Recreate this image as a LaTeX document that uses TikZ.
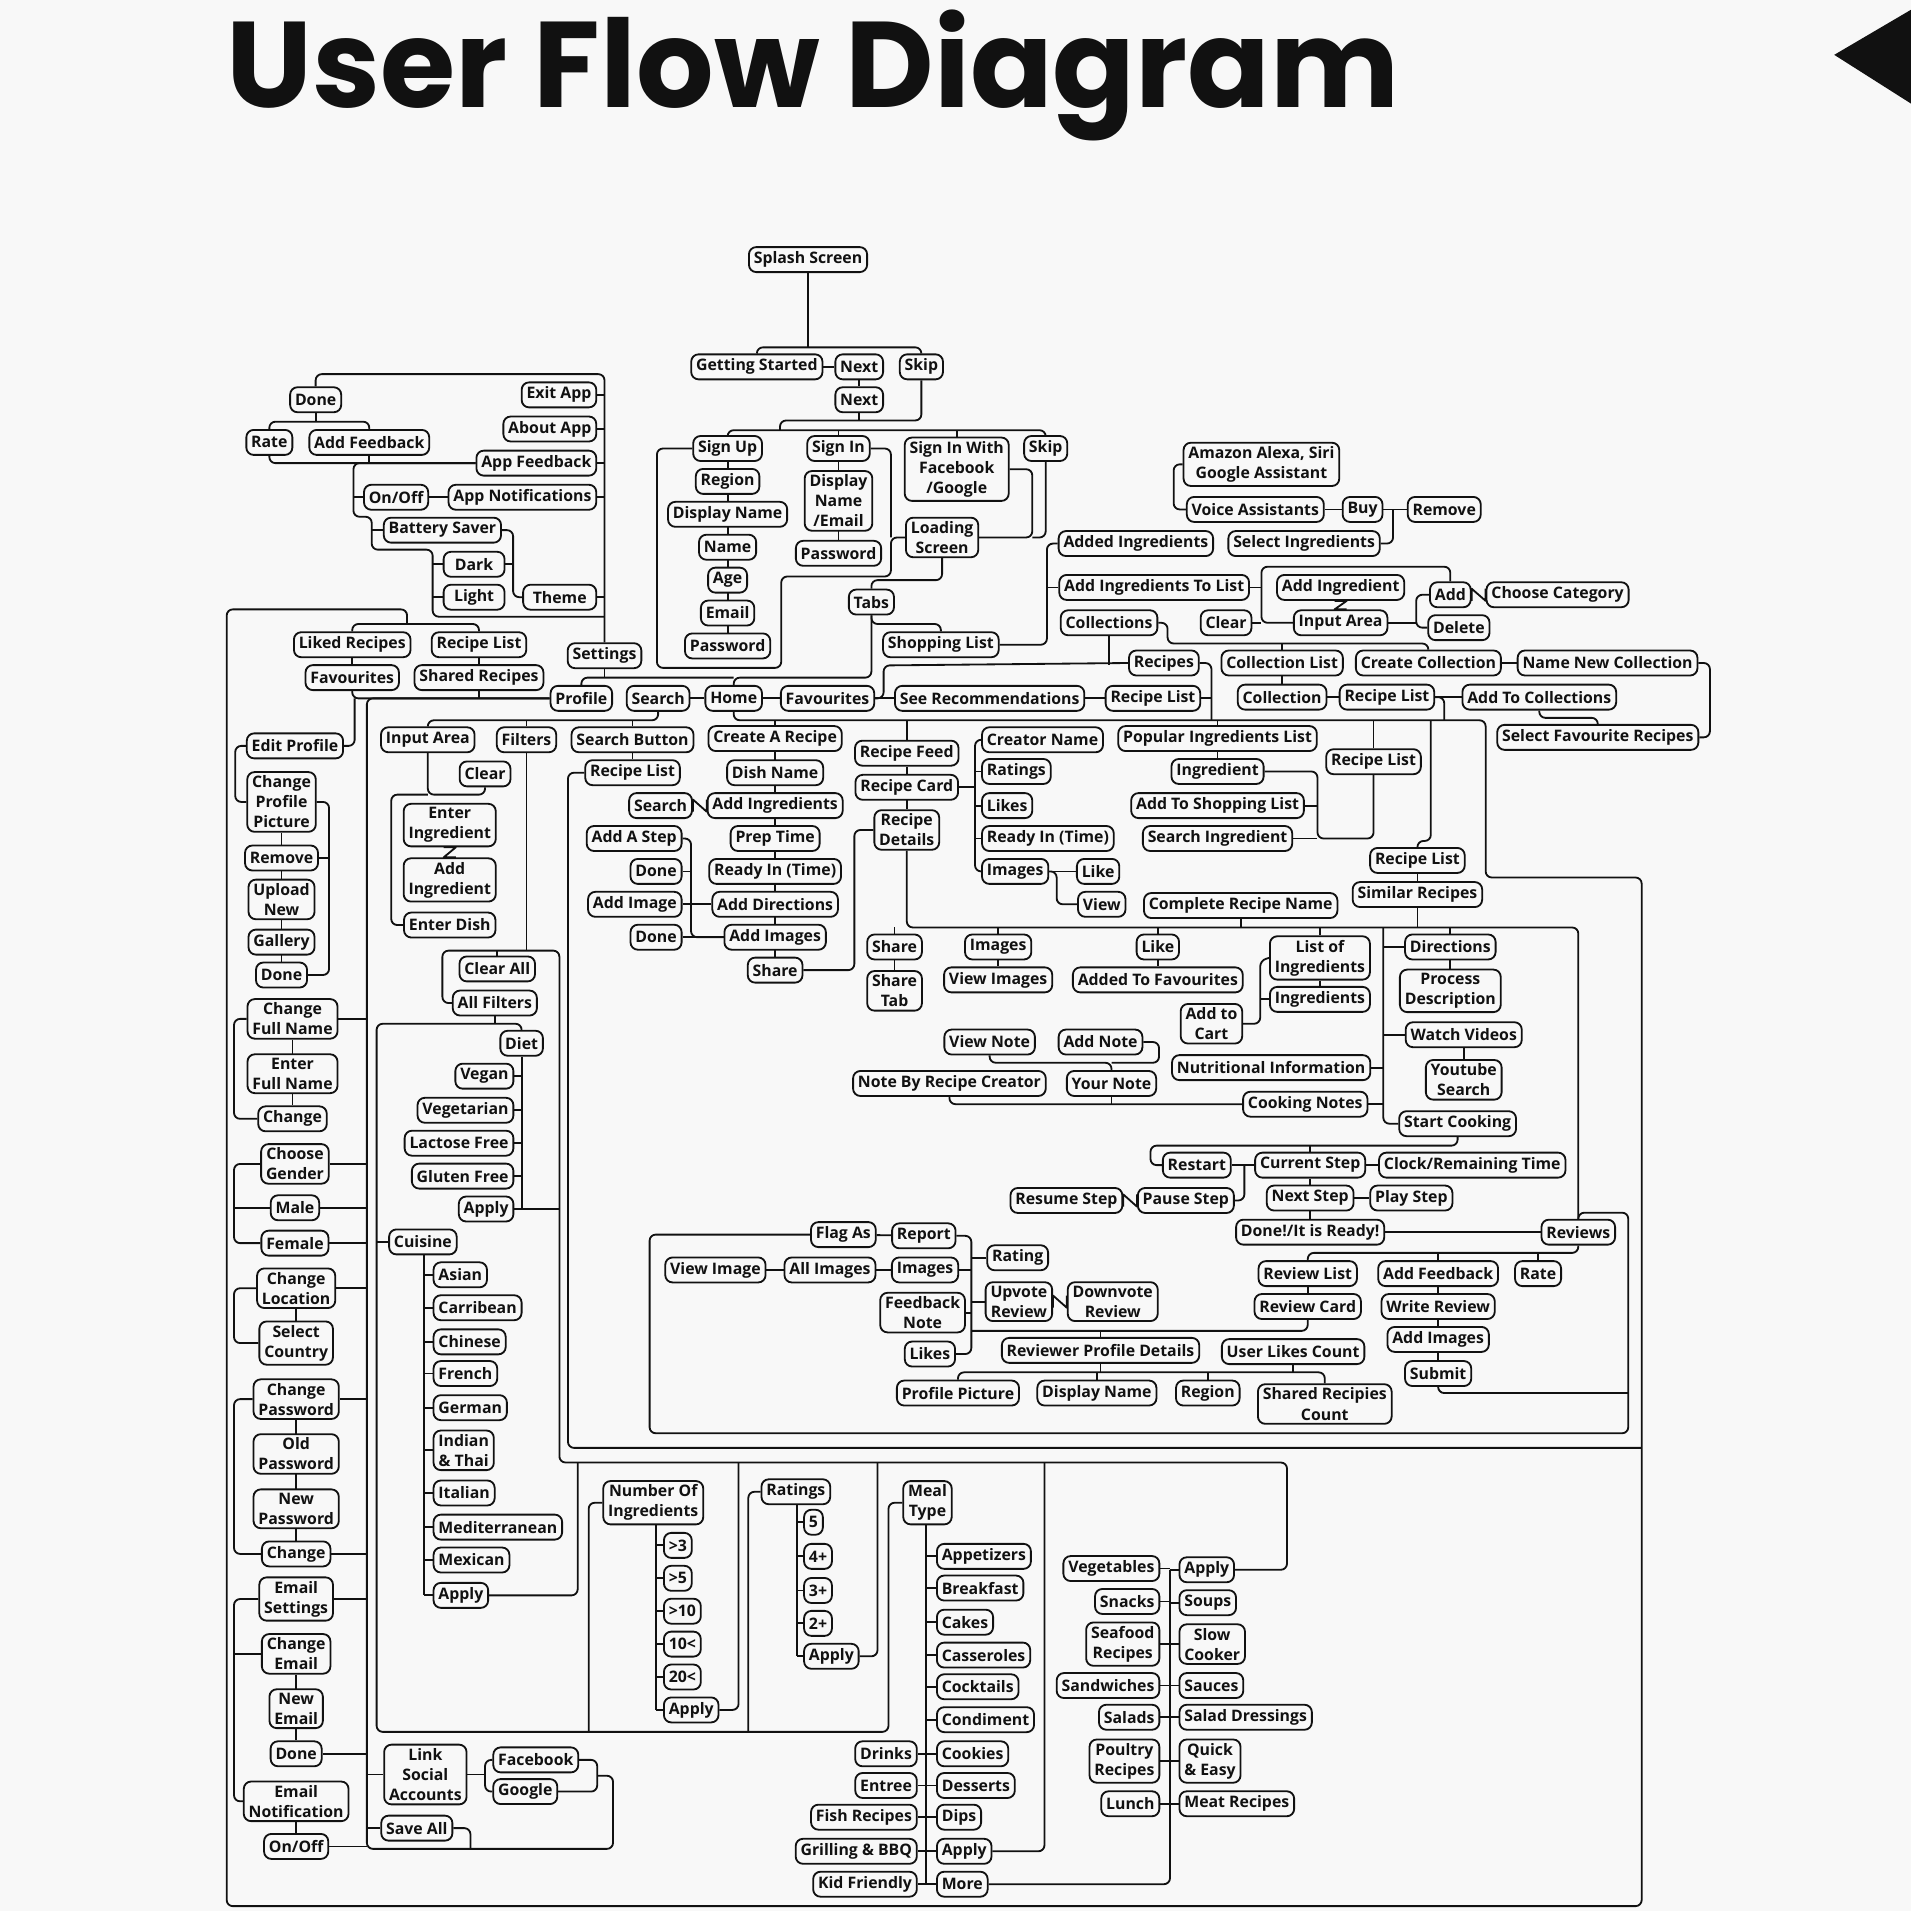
\documentclass[tikz,border=0pt]{standalone}
\usepackage{fontspec}
\setmainfont{Open Sans}
\newfontfamily\titlefont{Poppins}
\usetikzlibrary{calc}
\definecolor{PaperGray}{HTML}{F8F8F8}
\definecolor{InkBlack}{HTML}{111111}
\pgfdeclarelayer{paper}
\pgfdeclarelayer{wires}
\pgfsetlayers{paper,wires,main}
\newcommand{\boxfont}{\fontsize{13}{16.5}\selectfont\bfseries}
% crossed link between two neighbour boxes
\newcommand{\crossh}[2]{\draw[wire, rounded corners=0pt] ($(#1.east)+(0,5)$) -- ($(#1.east)+(0,-5)$) -- ($(#2.west)+(0,5)$) -- ($(#2.west)+(0,-5)$);}
\newcommand{\crossv}[2]{\draw[wire, rounded corners=0pt] ($(#1.south)+(-5,0)$) -- ($(#1.south)+(5,0)$) -- ($(#2.north)+(-5,0)$) -- ($(#2.north)+(5,0)$);}
\tikzset{
    % Screen box
    scr/.style={
        rectangle,
        draw=InkBlack,
        line width=1.5pt,
        rounded corners=6pt,
        fill=PaperGray,
        text=InkBlack,
        align=center,
        inner xsep=4pt,
        inner ysep=3pt,
        minimum height=20.5pt,
        font=\boxfont
    },
    % Connector
    wire/.style={
        draw=InkBlack,
        line width=1.5pt,
        rounded corners=5pt,
        line join=round
    }
}
\begin{document}
\begin{tikzpicture}[x=1pt, y=-1pt]
    \begin{pgfonlayer}{paper}
        \fill[PaperGray] (0,0) rectangle (1568,1568);
    \end{pgfonlayer}
    \useasboundingbox (0,0) rectangle (1568,1568);

    % Title
    \node (title) [anchor=base west, inner sep=0pt, text=InkBlack, font=\titlefont\bfseries\fontsize{100}{100}\selectfont] at (186,88) {User Flow Diagram};
    \fill[InkBlack] (1505,45) -- (1568,8) -- (1568,85) -- cycle;

    % Onboarding
    \node (splash) [scr] at (663,213) {Splash Screen};
    \node (gs) [scr] at (621,301) {Getting Started};
    \node (next1) [scr] at (705,301) {Next};
    \node (skip1) [scr] at (756,301) {Skip};
    \node (next2) [scr] at (705,328) {Next};
    \node (signup) [scr] at (597,368) {Sign Up};
    \node (region1) [scr] at (597,395) {Region};
    \node (dname1) [scr] at (597,422) {Display Name};
    \node (name1) [scr] at (597,449) {Name};
    \node (age) [scr] at (597,476) {Age};
    \node (email1) [scr] at (597,503) {Email};
    \node (pass1) [scr] at (597,530) {Password};
    \node (signin) [scr] at (688,368) {Sign In};
    \node (dname2) [scr] at (688,411) {Display\\Name\\/Email};
    \node (pass2) [scr] at (688,454) {Password};
    \node (signfb) [scr] at (785,385) {Sign In With\\Facebook\\/Google};
    \node (skip2) [scr] at (858,368) {Skip};
    \node (loading) [scr] at (773,441) {Loading\\Screen};
    \node (tabs) [scr] at (715,494) {Tabs};
    \node (shoplist) [scr] at (772,529) {Shopping List};

    % Shopping list
    \node (amazon) [scr] at (1035,381) {Amazon Alexa, Siri\\Google Assistant};
    \node (voice) [scr] at (1030,418) {Voice Assistants};
    \node (buy) [scr] at (1118,418) {Buy};
    \node (remove1) [scr] at (1185,418) {Remove};
    \node (addedingr) [scr] at (932,446) {Added Ingredients};
    \node (selingr) [scr] at (1070,446) {Select Ingredients};
    \node (addtolist) [scr] at (947,482) {Add Ingredients To List};
    \node (addingr3) [scr] at (1100,482) {Add Ingredient};
    \node (input3) [scr] at (1100,511) {Input Area};
    \node (clear3) [scr] at (1006,511) {Clear};
    \node (add) [scr] at (1190,488) {Add};
    \node (choosecat) [scr] at (1278,488) {Choose Category};
    \node (delete) [scr] at (1197,515) {Delete};
    \node (collections) [scr] at (910,511) {Collections};

    % Collections
    \node (recipes) [scr] at (955,544) {Recipes};
    \node (colllist) [scr] at (1052,544) {Collection List};
    \node (createcoll) [scr] at (1172,544) {Create Collection};
    \node (namecoll) [scr] at (1319,544) {Name New Collection};
    \node (collection) [scr] at (1052,572) {Collection};
    \node (reclist3) [scr] at (1138,572) {Recipe List};
    \node (addtocoll) [scr] at (1263,572) {Add To Collections};
    \node (selfav) [scr] at (1311,605) {Select Favourite Recipes};

    % Tab bar
    \node (profile) [scr] at (477,573) {Profile};
    \node (search1) [scr] at (540,573) {Search};
    \node (home) [scr] at (602,573) {Home};
    \node (favtab) [scr] at (679,573) {Favourites};
    \node (seerec) [scr] at (812,573) {See Recommendations};
    \node (reclist4) [scr] at (946,573) {Recipe List};

    % Settings
    \node (settings) [scr] at (496,538) {Settings};
    \node (done1) [scr] at (259,328) {Done};
    \node (rate1) [scr] at (221,363) {Rate};
    \node (addfb1) [scr] at (303,363) {Add Feedback};
    \node (exitapp) [scr, anchor=east] at (490,324) {Exit App};
    \node (aboutapp) [scr, anchor=east] at (490,352) {About App};
    \node (appfb) [scr, anchor=east] at (490,380) {App Feedback};
    \node (appnotif) [scr, anchor=east] at (490,408) {App Notifications};
    \node (onoff1) [scr] at (325,408) {On/Off};
    \node (battery) [scr] at (363,435) {Battery Saver};
    \node (dark) [scr, minimum width=50pt] at (389,463) {Dark};
    \node (light) [scr, minimum width=50pt] at (389,490) {Light};
    \node (theme) [scr, anchor=east, minimum width=60pt] at (490,490) {Theme};

    % Profile
    \node (liked) [scr] at (289,529) {Liked Recipes};
    \node (reclist1) [scr] at (393,529) {Recipe List};
    \node (favs) [scr] at (289,556) {Favourites};
    \node (shared) [scr] at (393,556) {Shared Recipes};
    \node (editprof) [scr] at (242,612) {Edit Profile};
    \node (cpp) [scr] at (231,658) {Change\\Profile\\Picture};
    \node (remove2) [scr] at (231,704) {Remove};
    \node (upload) [scr] at (231,738) {Upload\\New};
    \node (gallery) [scr] at (231,773) {Gallery};
    \node (done2) [scr] at (231,800) {Done};
    \node (chfull) [scr] at (240,836) {Change\\Full Name};
    \node (enfull) [scr] at (240,881) {Enter\\Full Name};
    \node (change1) [scr] at (240,918) {Change};
    \node (gender) [scr] at (242,955) {Choose\\Gender};
    \node (male) [scr] at (242,991) {Male};
    \node (female) [scr] at (242,1020) {Female};
    \node (chloc) [scr] at (243,1057) {Change\\Location};
    \node (country) [scr] at (243,1102) {Select\\Country};
    \node (chpass) [scr] at (243,1148) {Change\\Password};
    \node (oldpass) [scr] at (243,1193) {Old\\Password};
    \node (newpass) [scr] at (243,1238) {New\\Password};
    \node (change2) [scr] at (243,1275) {Change};
    \node (emailset) [scr] at (243,1312) {Email\\Settings};
    \node (chemail) [scr] at (243,1357) {Change\\Email};
    \node (newemail) [scr] at (243,1402) {New\\Email};
    \node (done3) [scr] at (243,1439) {Done};
    \node (emailnot) [scr] at (243,1478) {Email\\Notification};
    \node (onoff2) [scr] at (243,1515) {On/Off};
    \node (linksoc) [scr] at (349,1456) {Link\\Social\\Accounts};
    \node (facebook) [scr, anchor=west] at (404,1444) {Facebook};
    \node (google) [scr, anchor=west] at (404,1470) {Google};
    \node (saveall) [scr] at (342,1500) {Save All};

    % Search
    \node (input1) [scr] at (351,607) {Input Area};
    \node (filters) [scr] at (432,607) {Filters};
    \node (searchbtn) [scr] at (519,607) {Search Button};
    \node (clear1) [scr] at (398,635) {Clear};
    \node (enteringr) [scr] at (369,677) {Enter\\Ingredient};
    \node (addingr1) [scr] at (369,722) {Add\\Ingredient};
    \node (enterdish) [scr] at (369,759) {Enter Dish};
    \node (clearall) [scr] at (408,795) {Clear All};
    \node (allfilt) [scr] at (406,823) {All Filters};
    \node (diet) [scr] at (428,856) {Diet};
    \node (vegan) [scr, anchor=east] at (422,883) {Vegan};
    \node (vegetarian) [scr, anchor=east] at (422,911) {Vegetarian};
    \node (lactose) [scr, anchor=east] at (422,938) {Lactose Free};
    \node (gluten) [scr, anchor=east] at (422,965) {Gluten Free};
    \node (apply1) [scr, anchor=east] at (422,992) {Apply};
    \node (cuisine) [scr] at (347,1019) {Cuisine};
    \node (asian) [scr, anchor=west] at (355,1046) {Asian};
    \node (carribean) [scr, anchor=west] at (355,1073) {Carribean};
    \node (chinese) [scr, anchor=west] at (355,1101) {Chinese};
    \node (french) [scr, anchor=west] at (355,1127) {French};
    \node (german) [scr, anchor=west] at (355,1155) {German};
    \node (indian) [scr, anchor=west] at (355,1190) {Indian\\\& Thai};
    \node (italian) [scr, anchor=west] at (355,1225) {Italian};
    \node (medit) [scr, anchor=west] at (355,1253) {Mediterranean};
    \node (mexican) [scr, anchor=west] at (355,1280) {Mexican};
    \node (apply2) [scr, anchor=west] at (355,1309) {Apply};
    \node (numingr) [scr] at (536,1233) {Number Of\\Ingredients};
    \node (gt3) [scr, anchor=west] at (544,1268) {>3};
    \node (gt5) [scr, anchor=west] at (544,1295) {>5};
    \node (gt10) [scr, anchor=west] at (544,1322) {>10};
    \node (lt10) [scr, anchor=west] at (544,1349) {10<};
    \node (lt20) [scr, anchor=west] at (544,1376) {20<};
    \node (apply3) [scr, anchor=west] at (544,1403) {Apply};
    \node (ratings2) [scr] at (653,1224) {Ratings};
    \node (r5) [scr, anchor=west] at (659,1249) {5};
    \node (r4) [scr, anchor=west] at (659,1277) {4+};
    \node (r3) [scr, anchor=west] at (659,1305) {3+};
    \node (r2) [scr, anchor=west] at (659,1332) {2+};
    \node (apply4) [scr, anchor=west] at (659,1359) {Apply};
    \node (mealtype) [scr] at (761,1233) {Meal\\Type};
    \node (appetizers) [scr, anchor=west] at (768,1277) {Appetizers};
    \node (breakfast) [scr, anchor=west] at (768,1303) {Breakfast};
    \node (cakes) [scr, anchor=west] at (768,1331) {Cakes};
    \node (casseroles) [scr, anchor=west] at (768,1358) {Casseroles};
    \node (cocktails) [scr, anchor=west] at (768,1384) {Cocktails};
    \node (condiment) [scr, anchor=west] at (768,1411) {Condiment};
    \node (cookies) [scr, anchor=west] at (768,1439) {Cookies};
    \node (desserts) [scr, anchor=west] at (768,1465) {Desserts};
    \node (dips) [scr, anchor=west] at (768,1491) {Dips};
    \node (apply6) [scr, anchor=west] at (768,1519) {Apply};
    \node (more) [scr, anchor=west] at (768,1546) {More};
    \node (drinks) [scr, anchor=east] at (753,1439) {Drinks};
    \node (entree) [scr, anchor=east] at (753,1465) {Entree};
    \node (fishrec) [scr, anchor=east] at (753,1491) {Fish Recipes};
    \node (grilling) [scr, anchor=east] at (753,1519) {Grilling \& BBQ};
    \node (kidfriendly) [scr, anchor=east] at (753,1546) {Kid Friendly};
    \node (vegetables) [scr, anchor=east] at (952,1287) {Vegetables};
    \node (snacks) [scr, anchor=east] at (952,1314) {Snacks};
    \node (seafood) [scr, anchor=east] at (952,1349) {Seafood\\Recipes};
    \node (sandwiches) [scr, anchor=east] at (952,1383) {Sandwiches};
    \node (salads) [scr, anchor=east] at (952,1409) {Salads};
    \node (poultry) [scr, anchor=east] at (952,1445) {Poultry\\Recipes};
    \node (lunch) [scr, anchor=east] at (952,1480) {Lunch};
    \node (apply5) [scr, anchor=west] at (967,1288) {Apply};
    \node (soups) [scr, anchor=west] at (967,1315) {Soups};
    \node (slowcook) [scr, anchor=west] at (967,1349) {Slow\\Cooker};
    \node (sauces) [scr, anchor=west] at (967,1383) {Sauces};
    \node (saladdress) [scr, anchor=west] at (967,1409) {Salad Dressings};
    \node (quickeasy) [scr, anchor=west] at (967,1445) {Quick\\\& Easy};
    \node (meatrec) [scr, anchor=west] at (967,1480) {Meat Recipes};

    % Create a recipe
    \node (createrec) [scr] at (636,606) {Create A Recipe};
    \node (dishname) [scr] at (636,634) {Dish Name};
    \node (addingr2) [scr] at (636,661) {Add Ingredients};
    \node (preptime) [scr] at (636,688) {Prep Time};
    \node (readyin1) [scr] at (636,715) {Ready In (Time)};
    \node (adddir) [scr] at (636,742) {Add Directions};
    \node (addimgs1) [scr] at (636,769) {Add Images};
    \node (share1) [scr] at (636,796) {Share};
    \node (search2) [scr] at (542,661) {Search};
    \node (reclist2) [scr] at (519,634) {Recipe List};
    \node (addstep) [scr, anchor=east] at (560,688) {Add A Step};
    \node (done4) [scr, anchor=east] at (560,715) {Done};
    \node (addimg) [scr, anchor=east] at (560,742) {Add Image};
    \node (done5) [scr, anchor=east] at (560,769) {Done};

    % Recipe feed
    \node (recfeed) [scr] at (744,618) {Recipe Feed};
    \node (reccard) [scr] at (744,646) {Recipe Card};
    \node (recdet) [scr] at (744,681) {Recipe\\Details};
    \node (creator) [scr, anchor=west] at (805,607) {Creator Name};
    \node (ratings1) [scr, anchor=west] at (805,633) {Ratings};
    \node (likes1) [scr, anchor=west] at (805,661) {Likes};
    \node (readyin2) [scr, anchor=west] at (805,688) {Ready In (Time)};
    \node (images1) [scr, anchor=west] at (805,715) {Images};
    \node (like1) [scr] at (901,715) {Like};
    \node (view) [scr] at (904,742) {View};
    \node (complete) [scr] at (1018,743) {Complete Recipe Name};
    \node (popular) [scr] at (999,606) {Popular Ingredients List};
    \node (ingredient) [scr] at (999,633) {Ingredient};
    \node (addshop) [scr] at (999,661) {Add To Shopping List};
    \node (searchingr) [scr] at (999,688) {Search Ingredient};
    \node (reclist5) [scr] at (1127,625) {Recipe List};
    \node (reclist6) [scr] at (1163,706) {Recipe List};
    \node (simrec) [scr] at (1163,734) {Similar Recipes};

    % Recipe details
    \node (share2) [scr] at (734,777) {Share};
    \node (sharetab) [scr] at (734,813) {Share\\Tab};
    \node (images2) [scr] at (819,777) {Images};
    \node (viewimgs) [scr] at (819,804) {View Images};
    \node (like2) [scr] at (950,777) {Like};
    \node (addedfav) [scr] at (950,804) {Added To Favourites};
    \node (listingr) [scr] at (1083,786) {List of\\Ingredients};
    \node (ingredients) [scr] at (1083,820) {Ingredients};
    \node (addcart) [scr] at (994,840) {Add to\\Cart};
    \node (directions) [scr] at (1190,777) {Directions};
    \node (procdesc) [scr] at (1190,813) {Process\\Description};
    \node (watch) [scr] at (1201,849) {Watch Videos};
    \node (youtube) [scr] at (1201,886) {Youtube\\Search};
    \node (startcook) [scr] at (1196,922) {Start Cooking};
    \node (nutri) [scr] at (1043,876) {Nutritional Information};
    \node (cooknotes) [scr] at (1071,906) {Cooking Notes};
    \node (viewnote) [scr] at (812,855) {View Note};
    \node (addnote) [scr] at (903,855) {Add Note};
    \node (notecreator) [scr] at (779,889) {Note By Recipe Creator};
    \node (yournote) [scr] at (912,889) {Your Note};

    % Cooking
    \node (restart) [scr] at (982,956) {Restart};
    \node (curstep) [scr] at (1075,956) {Current Step};
    \node (clock) [scr] at (1208,956) {Clock/Remaining Time};
    \node (resume) [scr] at (875,985) {Resume Step};
    \node (pause) [scr] at (973,985) {Pause Step};
    \node (nextstep) [scr] at (1075,983) {Next Step};
    \node (playstep) [scr] at (1158,983) {Play Step};
    \node (ready) [scr] at (1075,1011) {Done!/It is Ready!};
    \node (reviews) [scr] at (1295,1011) {Reviews};
    \node (revlist) [scr] at (1073,1045) {Review List};
    \node (revcard) [scr] at (1073,1072) {Review Card};
    \node (addfb2) [scr] at (1180,1045) {Add Feedback};
    \node (rate2) [scr] at (1262,1045) {Rate};
    \node (writerev) [scr] at (1180,1072) {Write Review};
    \node (addimgs2) [scr] at (1180,1099) {Add Images};
    \node (submit) [scr] at (1180,1127) {Submit};

    % Reviews
    \node (flagas) [scr] at (692,1013) {Flag As};
    \node (report) [scr] at (758,1014) {Report};
    \node (viewimg) [scr] at (587,1042) {View Image};
    \node (allimgs) [scr] at (681,1042) {All Images};
    \node (images3) [scr] at (759,1042) {Images};
    \node (rating3) [scr] at (835,1032) {Rating};
    \node (upvote) [scr] at (836,1068) {Upvote\\Review};
    \node (downvote) [scr] at (913,1068) {Downvote\\Review};
    \node (fbnote) [scr] at (757,1077) {Feedback\\Note};
    \node (likes2) [scr] at (763,1111) {Likes};
    \node (revprof) [scr] at (903,1108) {Reviewer Profile Details};
    \node (userlikes) [scr] at (1061,1109) {User Likes Count};
    \node (profpic) [scr] at (786,1143) {Profile Picture};
    \node (dname3) [scr] at (900,1143) {Display Name};
    \node (region3) [scr] at (991,1143) {Region};
    \node (sharedcount) [scr] at (1087,1152) {Shared Recipies\\Count};

    % Rails
    \coordinate (setrail) at (496,0);
    \coordinate (profrail) at (301,0);
    \coordinate (dietrail) at (428,0);
    \coordinate (cuisrail) at (348,0);
    \coordinate (numrail) at (538,0);
    \coordinate (ratrail) at (654,0);
    \coordinate (mealrail) at (760,0);
    \coordinate (vegrail) at (960,0);
    \coordinate (feedrail) at (800,0);
    \coordinate (cookrail) at (1135,0);

    \begin{pgfonlayer}{wires}
    % Onboarding links
    \draw[wire] (splash) -- (663,285);
    \draw[wire] (gs.north) -- (621,285) -- (756,285) -- (skip1.north);
    \draw[wire] (gs) -- (next1);
    \draw[wire] (next1) -- (next2);
    \draw[wire] (skip1.south) -- (756,345) -- (640,345) -- (640,353);
    \draw[wire] (next2.south) -- (705,345);
    \draw[wire] (signup.north) -- (597,353) -- (858,353) -- (skip2.north);
    \draw[wire] (signin.north) -- (688,353);
    \draw[wire] (signfb.north) -- (785,353);
    \draw[wire] (signup) -- (pass1);
    \draw[wire] (signin) -- (pass2);
    \draw[wire] (signup.west) -- (539,368) -- (539,548) -- (641,548) -- (641,473) -- (731,473) -- (731,441) -- (loading.west);
    \draw[wire] (signin.east) -- (731,368) -- (731,441);
    \draw[wire] (signfb.east) -- (847,385) -- (847,441) -- (loading.east);
    \draw[wire] (skip2.south) -- (858,441) -- (847,441);
    \draw[wire] (loading.south) -- (773,476) -- (715,476) -- (tabs.north);
    \draw[wire] (tabs.south) -- (715,512) -- (772,512) -- (shoplist.north);
    \draw[wire] (tabs.south) -- (715,556) -- (602,556) -- (home.north);
    \draw[wire] (profile.north) -- (477,556) -- (602,556);
    \draw[wire] (settings.south) -- (496,556);

    % Shopping list links
    \draw[wire] (shoplist.east) -- (859,529) -- (859,446) -- (addedingr.west);
    \draw[wire] (addtolist.west) -- (859,482);
    \draw[wire] (voice.west) -- (963,418) -- (963,381) -- (amazon.west);
    \draw[wire] (voice) -- (buy);
    \draw[wire] (buy) -- (remove1);
    \draw[wire] (selingr.east) -- (1143,446) -- (1143,418);
    \draw[wire] (add.north) -- (1190,465) -- (1035,465) -- (1035,511) -- (input3.west);
    \draw[wire] (addtolist.east) -- (1035,482);
    \draw[wire] (clear3.east) -- (1035,511);
    \crossv{addingr3}{input3}
    \draw[wire] (input3.east) -- (1162,511);
    \draw[wire] (add.west) -- (1162,488) -- (1162,515) -- (delete.west);
    \crossh{add}{choosecat}

    % Collections links
    \draw[wire] (collections.east) -- (958,511) -- (958,528) -- (1172,528) -- (createcoll.north);
    \draw[wire] (colllist.north) -- (1052,528);
    \draw[wire] (createcoll) -- (namecoll);
    \draw[wire] (namecoll.east) -- (1403,544) -- (1403,605) -- (selfav.east);
    \draw[wire] (colllist) -- (collection);
    \draw[wire] (collection) -- (reclist3);
    \draw[wire] (reclist3) -- (addtocoll);
    \draw[wire] (reclist3.east) -- (1185,572) -- (1185,591);
    \draw[wire] (addtocoll.south) -- (1263,589) -- (1311,589) -- (selfav.north);
    \draw[wire] (favtab) -- (seerec);
    \draw[wire] (seerec) -- (reclist4);
    \draw[wire] (favtab.east) -- (725,573) -- (725,546) -- (recipes.west);
    \draw[wire] (collections.south) -- (910,546);
    \draw[wire] (recipes.east) -- (994,544) -- (994,591);
    \draw[wire] (reclist4.east) -- (994,573);

    % Tab bar links
    \draw[wire] (search1) -- (home);
    \draw[wire] (home) -- (favtab);
    \draw[wire] (input1.north) -- (351,591) -- (540,591) -- (search1.south);
    \draw[wire] (filters.north) -- (432,591);
    \draw[wire] (searchbtn.north) -- (519,591);
    \draw[wire] (home.south) -- (602,591) -- (1219,591) -- (1219,720) -- (1347,720) -- (1347,1564) -- (186,1564) -- (186,500) -- (334,500) -- (334,512);
    \draw[wire] (liked.north) -- (289,512) -- (393,512) -- (reclist1.north);
    \draw[wire] (createrec.north) -- (636,591);
    \draw[wire] (recfeed.north) -- (744,591);
    \draw[wire] (popular.north) -- (999,591);
    \draw[wire] (reclist5.north) -- (1127,591);
    \draw[wire] (reclist6.north) -- (1163,690) -- (1174,690) -- (1174,591);

    % Settings links
    \draw[wire] (settings.north) -- (496,307) -- (259,307) -- (done1.north);
    \foreach \n in {exitapp,aboutapp,appfb,appnotif,theme}
        \draw[wire] (\n.east) -- (\n.east -| setrail);
    \draw[wire] (done1.south) -- (259,346);
    \draw[wire] (rate1.north) -- (221,346) -- (303,346) -- (addfb1.north);
    \draw[wire] (rate1.south) -- (221,380) -- (appfb.west);
    \draw[wire] (addfb1.south) -- (303,380);
    \draw[wire] (appfb.west) -- (290,380) -- (290,424) -- (305,424) -- (305,451) -- (355,451) -- (355,506) -- (496,506);
    \draw[wire] (onoff1.west) -- (290,408);
    \draw[wire] (onoff1) -- (appnotif);
    \draw[wire] (battery.west) -- (305,435);
    \draw[wire] (dark.west) -- (355,463);
    \draw[wire] (light.west) -- (355,490);
    \draw[wire] (battery.east) -- (421,435) -- (421,490) -- (theme.west);
    \draw[wire] (dark.east) -- (421,463);

    % Profile links
    \draw[wire] (liked) -- (favs);
    \draw[wire] (reclist1) -- (shared);
    \draw[wire] (favs.south) |- (profile.west);
    \draw[wire] (shared.south) -- (393,573);
    \draw[wire] (editprof.east) -- (291,612) -- (291,573);
    \draw[wire] (profile.west) -- (301,573) -- (301,1517) -- (503,1517) -- (503,1457) -- (490,1457);
    \draw[wire] (facebook.east) -- (490,1444) -- (490,1470) -- (google.east);
    \draw[wire] (facebook.west) -- (398,1444) -- (398,1470) -- (google.west);
    \draw[wire] (linksoc.east) -- (398,1456);
    \foreach \n in {chfull,gender,male,female,chloc,chpass,change2,emailset,done3,onoff2}
        \draw[wire] (\n.east) -- (\n.east -| profrail);
    \draw[wire] (linksoc.west) -- (linksoc.west -| profrail);
    \draw[wire] (saveall.west) -- (saveall.west -| profrail);
    \draw[wire] (saveall.east) -- (386,1500) -- (386,1517);
    \draw[wire] (editprof.west) -- (193,612) -- (193,658) -- (cpp.west);
    \draw[wire] (cpp) -- (done2);
    \draw[wire] (cpp.east) -- (270,658) -- (270,800) -- (done2.east);
    \draw[wire] (remove2.east) -- (270,704);
    \draw[wire] (chfull) -- (change1);
    \draw[wire] (chfull.west) -- (192,836) -- (192,918) -- (change1.west);
    \draw[wire] (gender.west) -- (192,955) -- (192,1020) -- (female.west);
    \draw[wire] (male.west) -- (192,991);
    \draw[wire] (chloc) -- (country);
    \draw[wire] (chloc.west) -- (192,1057) -- (192,1102) -- (country.west);
    \draw[wire] (chpass) -- (change2);
    \draw[wire] (chpass.west) -- (192,1148) -- (192,1275) -- (change2.west);
    \draw[wire] (emailset.west) -- (192,1312) -- (192,1478) -- (emailnot.west);
    \draw[wire] (chemail.west) -- (192,1357);
    \draw[wire] (chemail) -- (done3);
    \draw[wire] (emailnot) -- (onoff2);

    % Search links
    \draw[wire] (input1.south) -- (351,652) -- (398,652) -- (clear1.south);
    \draw[wire] (enterdish.west) -- (321,759) -- (321,652) -- (351,652);
    \crossv{enteringr}{addingr1}
    \draw[wire] (filters.south) -- (432,780);
    \draw[wire] (allfilt.west) -- (363,823) -- (363,780) -- (459,780) -- (459,1200) -- (1056,1200) -- (1056,1288) -- (apply5.east);
    \draw[wire] (clearall.north) -- (408,780);
    \draw[wire] (apply1.east) -- (459,992);
    \draw[wire] (diet.north) -- (428,840) -- (309,840) -- (309,1421) -- (729,1421) -- (729,1233) -- (mealtype.west);
    \draw[wire] (allfilt.south) -- (406,840);
    \draw[wire] (cuisine.west) -- (309,1019);
    \draw[wire] (numingr.west) -- (483,1233) -- (483,1421);
    \draw[wire] (ratings2.west) -- (614,1224) -- (614,1421);
    \draw[wire] (diet.south) -- (apply1.east -| dietrail);
    \foreach \n in {vegan,vegetarian,lactose,gluten,apply1}
        \draw[wire] (\n.east) -- (\n.east -| dietrail);
    \draw[wire] (cuisine.south -| cuisrail) -- (apply2.west -| cuisrail);
    \foreach \n in {asian,carribean,chinese,french,german,indian,italian,medit,mexican,apply2}
        \draw[wire] (\n.west) -- (\n.west -| cuisrail);
    \draw[wire] (apply2.east) -- (474,1309) -- (474,1200);
    \draw[wire] (numingr.south -| numrail) -- (apply3.west -| numrail);
    \foreach \n in {gt3,gt5,gt10,lt10,lt20,apply3}
        \draw[wire] (\n.west) -- (\n.west -| numrail);
    \draw[wire] (apply3.east) -- (606,1403) -- (606,1200);
    \draw[wire] (ratings2.south -| ratrail) -- (apply4.west -| ratrail);
    \foreach \n in {r5,r4,r3,r2,apply4}
        \draw[wire] (\n.west) -- (\n.west -| ratrail);
    \draw[wire] (apply4.east) -- (720,1359) -- (720,1200);
    \draw[wire] (mealtype.south -| mealrail) -- (more.west -| mealrail);
    \foreach \n in {appetizers,breakfast,cakes,casseroles,cocktails,condiment,cookies,desserts,dips,apply6,more}
        \draw[wire] (\n.west) -- (\n.west -| mealrail);
    \foreach \n in {drinks,entree,fishrec,grilling,kidfriendly}
        \draw[wire] (\n.east) -- (\n.east -| mealrail);
    \draw[wire] (apply6.east) -- (857,1519) -- (857,1200);
    \draw[wire] (more.east) -- (960,1546) -- (960,1288);
    \foreach \n in {vegetables,snacks,seafood,sandwiches,salads,poultry,lunch}
        \draw[wire] (\n.east) -- (\n.east -| vegrail);
    \foreach \n in {apply5,soups,slowcook,sauces,saladdress,quickeasy,meatrec}
        \draw[wire] (\n.west) -- (\n.west -| vegrail);

    % Create recipe links
    \draw[wire] (createrec) -- (share1);
    \crossh{search2}{addingr2}
    \draw[wire] (searchbtn) -- (reclist2);
    \draw[wire] (reclist2.west) -- (466,634) -- (466,1188) -- (1347,1188);
    \draw[wire] (addstep.east) -- (567,688) -- (567,769) -- (addimgs1.west);
    \draw[wire] (done4.east) -- (567,715);
    \draw[wire] (addimg.east) -- (567,742);
    \draw[wire] (adddir.west) -- (567,742);
    \draw[wire] (done5.east) -- (addimgs1.west);
    \draw[wire] (recdet.west) -- (701,681) -- (701,796) -- (share1.east);

    % Recipe feed links
    \draw[wire] (recfeed) -- (recdet);
    \draw[wire] (creator.west) -- (800,607) -- (800,715) -- (images1.west);
    \draw[wire] (reccard.east) -- (800,646);
    \foreach \n in {ratings1,likes1,readyin2}
        \draw[wire] (\n.west) -- (\n.west -| feedrail);
    \draw[wire] (images1) -- (like1);
    \draw[wire] (images1.east) -- (867,715) -- (867,742) -- (view.west);
    \draw[wire] (popular) -- (ingredient);
    \draw[wire] (ingredient.east) -- (1081,633) -- (1081,688) -- (1127,688) -- (reclist5.south);
    \draw[wire] (addshop.east) -- (1081,661);
    \draw[wire] (searchingr.east) -- (1081,688);
    \draw[wire] (reclist6) -- (simrec);
    \draw[wire] (recdet.south) -- (744,761) -- (1295,761) -- (reviews.north);
    \draw[wire] (share2.north) -- (734,761);
    \draw[wire] (images2.north) -- (819,761);
    \draw[wire] (like2.north) -- (950,761);
    \draw[wire] (complete.south) -- (1018,761);
    \draw[wire] (listingr.north) -- (1083,761);
    \draw[wire] (directions.north) -- (1190,761);
    \draw[wire] (simrec.south) -- (1163,761);
    \draw[wire] (startcook.west) -- (1135,922) -- (1135,761);
    \foreach \n in {directions,watch}
        \draw[wire] (\n.west) -- (\n.west -| cookrail);
    \foreach \n in {nutri,cooknotes}
        \draw[wire] (\n.east) -- (\n.east -| cookrail);
    \draw[wire] (share2) -- (sharetab);
    \draw[wire] (images2) -- (viewimgs);
    \draw[wire] (like2) -- (addedfav);
    \draw[wire] (listingr) -- (ingredients);
    \draw[wire] (directions) -- (procdesc);
    \draw[wire] (watch) -- (youtube);
    \draw[wire] (addcart.east) -- (1034,840) -- (1034,788) -- (listingr.west);
    \draw[wire] (ingredients.west) -- (1034,820);

    % Notes links
    \draw[wire] (viewnote.south) -- (812,872) -- (912,872) -- (yournote.north);
    \draw[wire] (addnote.east) -- (951,855) -- (951,872) -- (912,872);
    \draw[wire] (notecreator.south) |- (cooknotes.west);
    \draw[wire] (yournote.south) -- (912,906);

    % Cooking links
    \draw[wire] (startcook.south) -- (1196,940) -- (944,940) -- (944,956) -- (restart.west);
    \draw[wire] (curstep.north) -- (1075,940);
    \draw[wire] (restart.east) -- (curstep.west);
    \draw[wire] (pause.east) -- (1021,985) -- (1021,956);
    \draw[wire] (curstep) -- (clock);
    \draw[wire] (curstep) -- (ready);
    \draw[wire] (nextstep) -- (playstep);
    \draw[wire] (ready) -- (reviews);
    \crossh{resume}{pause}
    \draw[wire] (reviews.south) -- (1295,1028) -- (1073,1028) -- (revlist.north);
    \draw[wire] (addfb2.north) -- (1180,1028);
    \draw[wire] (rate2.north) -- (1262,1028);
    \draw[wire] (revlist) -- (revcard);
    \draw[wire] (addfb2) -- (submit);
    \draw[wire] (reviews.north) -- (1295,995) -- (1336,995) -- (1336,1176) -- (533,1176) -- (533,1013) -- (flagas.west);
    \draw[wire] (submit.south) -- (1180,1143) -- (1336,1143);

    % Review links
    \draw[wire] (flagas) -- (report);
    \draw[wire] (viewimg) -- (images3);
    \draw[wire] (report.east) -- (797,1014) -- (797,1111) -- (likes2.east);
    \draw[wire] (images3.east) -- (797,1042);
    \draw[wire] (fbnote.east) -- (797,1077);
    \draw[wire] (rating3.west) -- (797,1032);
    \draw[wire] (upvote.west) -- (797,1068);
    \crossh{upvote}{downvote}
    \draw[wire] (revcard.south) -- (1073,1092) -- (797,1092);
    \draw[wire] (revprof.north) -- (903,1092);
    \draw[wire] (profpic.north) -- (786,1126) -- (1087,1126) -- (sharedcount.north);
    \draw[wire] (dname3.north) -- (900,1126);
    \draw[wire] (region3.north) -- (991,1126);
    \draw[wire] (revprof.south) -- (903,1126);
    \draw[wire] (userlikes.south) -- (1061,1126);
    \end{pgfonlayer}
\end{tikzpicture}
\end{document}
